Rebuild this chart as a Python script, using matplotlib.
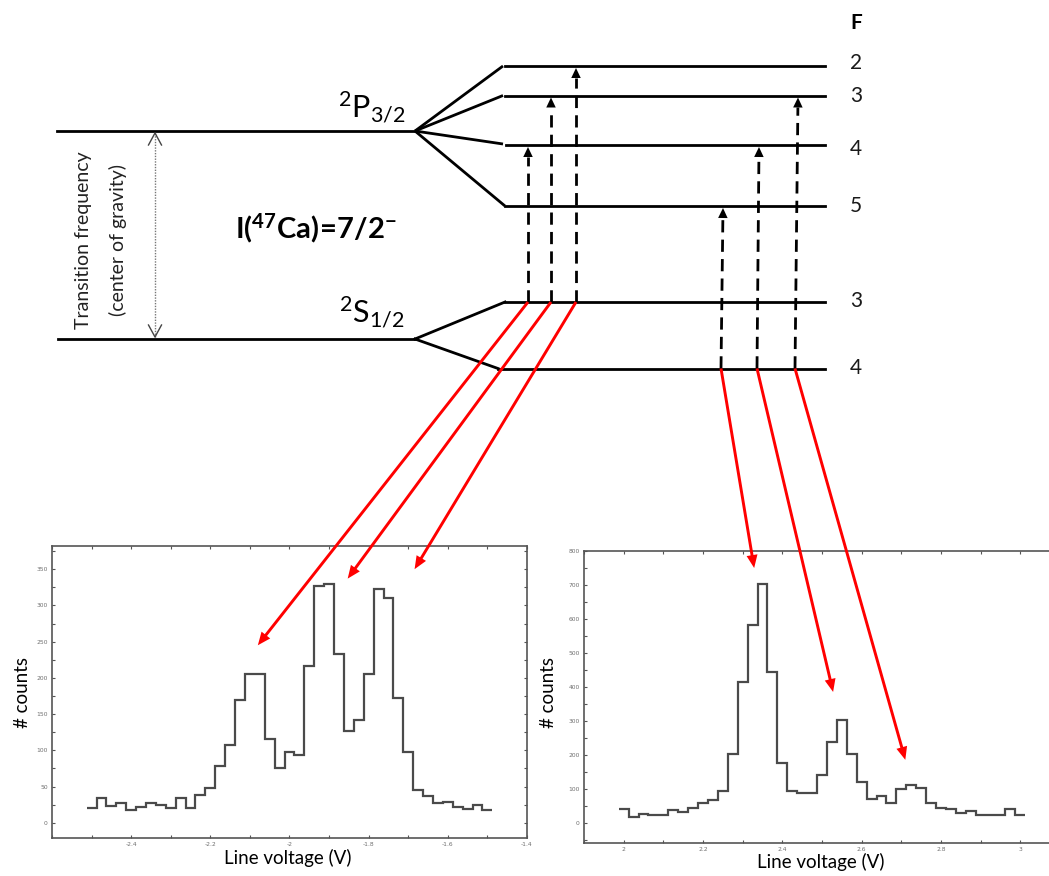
import numpy as np
import matplotlib
matplotlib.use("Agg")
import matplotlib.pyplot as plt
from matplotlib.patches import Polygon
from matplotlib.ticker import MultipleLocator

# ---------------- data ----------------
bin_width_v = 0.025
left_first_centre_v = -2.5
right_first_centre_v = 2.0
left_counts = [21, 34, 23, 27, 18, 22, 27, 24, 20, 34,
               21, 39, 48, 79, 108, 170, 205, 206, 116, 76,
               98, 94, 217, 327, 330, 233, 126, 142, 206, 322,
               310, 172, 98, 45, 37, 27, 28, 22, 19, 24, 17]
right_counts = [39, 18, 26, 22, 24, 37, 30, 43, 57, 67,
                92, 202, 413, 582, 704, 445, 177, 92, 86, 86,
                141, 237, 303, 202, 121, 71, 78, 57, 98, 110,
                103, 59, 44, 39, 29, 35, 24, 22, 22, 41, 22]
left_xticks = [-2.4, -2.2, -2.0, -1.8, -1.6, -1.4]
left_xticklabels = ["-2.4", "-2.2", "-2", "-1.8", "-1.6", "-1.4"]
left_yticks = [0, 50, 100, 150, 200, 250, 300, 350]
right_xticks = [2.0, 2.2, 2.4, 2.6, 2.8, 3.0]
right_xticklabels = ["2", "2.2", "2.4", "2.6", "2.8", "3"]
right_yticks = [0, 100, 200, 300, 400, 500, 600, 700, 800]

upper_F = [2, 3, 4, 5]          # 2P3/2 hyperfine levels
lower_F = [3, 4]                # 2S1/2 hyperfine levels
left_transitions = [(3, 4), (3, 3), (3, 2)]    # (lower F, upper F)
right_transitions = [(4, 5), (4, 4), (4, 3)]
# peaks that the red arrows point at: (line voltage, counts)
left_targets = [(-2.08, 245), (-1.853, 337), (-1.684, 350)]
right_targets = [(2.329, 750), (2.528, 385), (2.71, 185)]

# ---------------- layout (pixels) ----------------
W, H = 1049, 876
upper_y = {2: 66, 3: 95.5, 4: 145, 5: 206}
lower_y = {3: 302, 4: 368.5}
upper_centre_y, lower_centre_y = 131, 339
fan_x = 415
level_x0 = {2: 505, 3: 505, 4: 506, 5: 505}
fan_end_x = {2: 503, 3: 503, 4: 503, 5: 505}
lower_x0 = {3: 505, 4: 498}
level_x1 = 825
left_arrow_x = [(528, 528), (551, 551), (576, 576)]      # (bottom x, top x)
right_arrow_x = [(721, 723), (757, 759), (795, 798)]

plt.rcParams["mathtext.fontset"] = "custom"
plt.rcParams["mathtext.rm"] = "Lato"
plt.rcParams["mathtext.it"] = "Lato:italic"
plt.rcParams["mathtext.bf"] = "Lato:bold"
FONT = ["Lato", "DejaVu Sans"]

fig = plt.figure(figsize=(W / 100, H / 100), dpi=100)
fig.patch.set_facecolor("white")

axL = fig.add_axes([52 / W, 1 - 838 / H, 475 / W, 292 / H])
axR = fig.add_axes([584 / W, 1 - 842.7 / H, 476 / W, 292 / H])


def draw_hist(ax, first_centre, counts, xlim, ylim, xt, xtl, yt, yminor):
    edges = first_centre - bin_width_v / 2 + bin_width_v * np.arange(len(counts) + 1)
    ax.stairs(counts, edges, baseline=None, color="#4a4a4a", lw=1.6)
    ax.set_xlim(*xlim)
    ax.set_ylim(*ylim)
    ax.set_xticks(xt)
    ax.set_xticklabels(xtl)
    ax.set_yticks(yt)
    ax.set_yticklabels([str(v) for v in yt])
    ax.xaxis.set_minor_locator(MultipleLocator(0.1))
    ax.yaxis.set_minor_locator(MultipleLocator(yminor))
    ax.tick_params(which="both", direction="in", top=True, right=True,
                   length=2.5, width=0.8, color="#555555",
                   labelsize=4.3, labelcolor="#6e6e6e", pad=3)
    for s in ax.spines.values():
        s.set_color("#555555")
        s.set_linewidth(1.2)


draw_hist(axL, left_first_centre_v, left_counts, (-2.6, -1.4), (-21, 382),
          left_xticks, left_xticklabels, left_yticks, 25)
draw_hist(axR, right_first_centre_v, right_counts, (1.9, 3.1), (-59, 801),
          right_xticks, right_xticklabels, right_yticks, 50)

# overlay in pixel coordinates
ov = fig.add_axes([0, 0, 1, 1], zorder=10)
ov.set_xlim(0, W)
ov.set_ylim(H, 0)
ov.axis("off")

LW = 2.0
# main levels
ov.plot([57, fan_x], [upper_centre_y, upper_centre_y], color="k", lw=LW)
ov.plot([58, fan_x], [lower_centre_y, lower_centre_y], color="k", lw=LW)
for F in upper_F:
    ov.plot([fan_x, fan_end_x[F]], [upper_centre_y, upper_y[F] - (1 if F == 4 else 0)], color="k", lw=LW,
            solid_capstyle="butt")
    ov.plot([level_x0[F], level_x1], [upper_y[F], upper_y[F]], color="k", lw=LW)
for F in lower_F:
    ov.plot([fan_x, lower_x0[F]], [lower_centre_y, lower_y[F]], color="k", lw=LW)
    ov.plot([lower_x0[F], level_x1], [lower_y[F], lower_y[F]], color="k", lw=LW)

# F labels
ov.text(850, 23, "F", fontsize=15, fontweight="bold", family=FONT, ha="left", va="center")
upper_label_dy = {2: -3, 3: 1, 4: 4, 5: 0}
for F in upper_F:
    ov.text(850, upper_y[F] + upper_label_dy[F], str(F), fontsize=15, family=FONT, ha="left", va="center",
            color="#1a1a1a")
for F in lower_F:
    ov.text(850, lower_y[F] - 1, str(F), fontsize=15, family=FONT, ha="left", va="center", color="#1a1a1a")

# term labels
ov.text(405, 117, r"${}^{2}\mathrm{P}_{3/2}$", fontsize=22, ha="right", va="baseline")
ov.text(405, 322, r"${}^{2}\mathrm{S}_{1/2}$", fontsize=22, ha="right", va="baseline")
ov.text(316, 238, r"$\mathbf{I(^{47}Ca)\!=\!7/2^{-}}$", fontsize=21, ha="center", va="baseline")

ov.text(83, 240, "Transition frequency", rotation=90, fontsize=14, family=FONT,
        ha="center", va="center", color="#222222")
ov.text(118, 240, "(center of gravity)", rotation=90, fontsize=14, family=FONT,
        ha="center", va="center", color="#222222")

# dotted double arrow
ov.plot([155, 155], [133, 337], color="#777777", lw=1.0, ls=(0, (1, 1)))
ov.plot([148.5, 155, 161.5], [145, 133, 145], color="#444444", lw=1.0)
ov.plot([148.5, 155, 161.5], [325, 337, 325], color="#444444", lw=1.0)


def head(x, y, ux, uy, length, width, color):
    # tip at (x, y), direction (ux, uy) unit pointing towards tip
    bx, by = x - ux * length, y - uy * length
    px, py = -uy, ux
    ov.add_patch(Polygon([(x, y), (bx + px * width / 2, by + py * width / 2),
                          (bx - px * width / 2, by - py * width / 2)],
                         closed=True, color=color, lw=0))


def dashed_arrows(transitions, xs):
    for (lo, up), (xb, xt) in zip(transitions, xs):
        y0 = lower_y[lo]
        y1 = upper_y[up] + 2
        d = np.hypot(xt - xb, y1 - y0)
        ux, uy = (xt - xb) / d, (y1 - y0) / d
        hl = 10
        ov.plot([xb, xt - ux * hl], [y0, y1 - uy * hl], color="k", lw=2.0,
                ls=(0, (4.4, 2.6)), solid_capstyle="butt", dash_capstyle="butt")
        head(xt, y1, ux, uy, hl, 9.5, "k")


dashed_arrows(left_transitions, left_arrow_x)
dashed_arrows(right_transitions, right_arrow_x)


def red_arrows(ax, transitions, xs, targets):
    inv = ov.transData.inverted()
    for (lo, up), (xb, xt), tgt in zip(transitions, xs, targets):
        x0, y0 = xb, lower_y[lo]
        x1, y1 = inv.transform(ax.transData.transform(tgt))
        d = np.hypot(x1 - x0, y1 - y0)
        ux, uy = (x1 - x0) / d, (y1 - y0) / d
        hl = 13
        ov.plot([x0, x1 - ux * hl * 0.8], [y0, y1 - uy * hl * 0.8], color="#ff0000", lw=2.1,
                solid_capstyle="butt")
        head(x1, y1, ux, uy, hl, 11, "#ff0000")


red_arrows(axL, left_transitions, left_arrow_x, left_targets)
red_arrows(axR, right_transitions, right_arrow_x, right_targets)

# histogram axis labels
ov.text(22, 692, "# counts", rotation=90, fontsize=13.5, family=FONT, ha="center", va="center")
ov.text(548, 693, "# counts", rotation=90, fontsize=13.5, family=FONT, ha="center", va="center")
ov.text(288, 858, "Line voltage (V)", fontsize=13.5, family=FONT, ha="center", va="center")
ov.text(821, 862, "Line voltage (V)", fontsize=13.5, family=FONT, ha="center", va="center")

fig.savefig("out.png", dpi=100, facecolor="white")
